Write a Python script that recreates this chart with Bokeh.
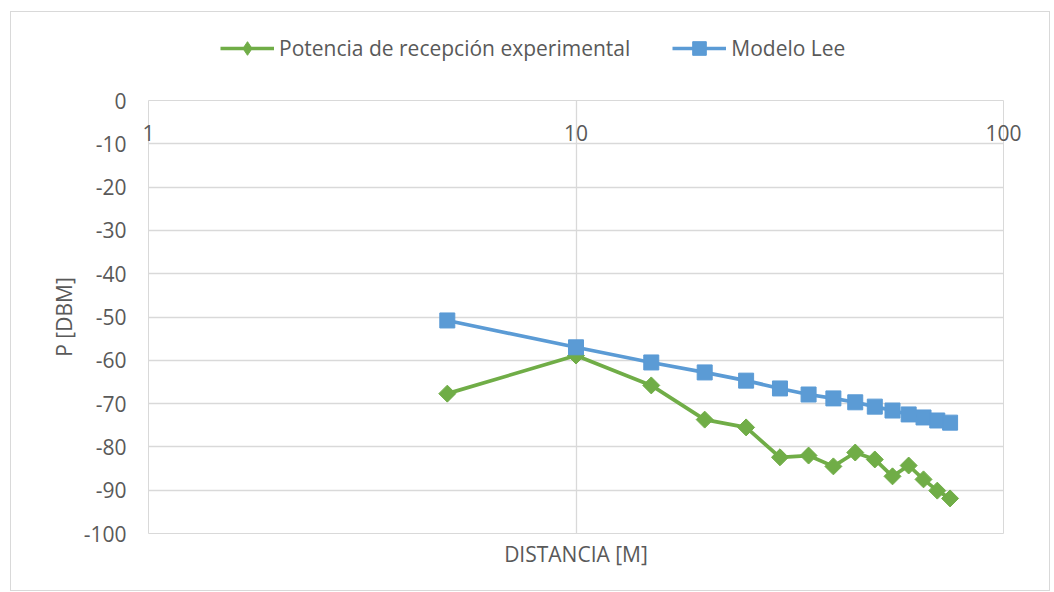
import numpy as np
from bokeh.plotting import figure
from bokeh.layouts import column
from bokeh.models import FixedTicker, Legend, LegendItem, LogAxis
from bokeh.embed import file_html
from bokeh.resources import INLINE

# ---- data ----
distancia = [5, 10, 15, 20, 25, 30, 35, 40, 45, 50, 55, 60, 65, 70, 75]
potencia_exp = [-67.7, -58.9, -65.8, -73.7, -75.5, -82.4, -82.0, -84.5, -81.3,
                -82.9, -86.8, -84.3, -87.5, -90.1, -91.9]
modelo_lee = [-50.8, -57.0, -60.5, -62.8, -64.7, -66.5, -67.9, -68.8, -69.7,
              -70.7, -71.6, -72.5, -73.2, -73.9, -74.4]
x_ticks = [1, 10, 100]
x_tick_labels = ["1", "10", "100"]
y_ticks = list(range(-100, 1, 10))
y_tick_labels = [str(v) for v in y_ticks]
series_names = ["Potencia de recepción experimental", "Modelo Lee"]

GREEN = "#70AD47"
BLUE = "#5B9BD5"
GRID = "#D9D9D9"
TXT = "#595959"
FONT = "Open Sans"
FS = "21px"

LEG_H = 72

p = figure(width=1038, height=578 - LEG_H, x_axis_type="log",
           x_range=(1, 100), y_range=(-100, 0),
           output_backend="svg", toolbar_location=None,
           min_border_left=137, min_border_right=46,
           min_border_top=16, min_border_bottom=57)

p.outline_line_color = GRID
p.outline_line_width = 1
p.background_fill_color = "white"
p.border_fill_color = "white"

p.xgrid.ticker = FixedTicker(ticks=x_ticks)
p.ygrid.ticker = FixedTicker(ticks=y_ticks)
p.xgrid.grid_line_color = GRID
p.ygrid.grid_line_color = GRID
p.xgrid.grid_line_width = 1.3
p.ygrid.grid_line_width = 1.3
p.xgrid.minor_grid_line_color = None

# y axis
p.yaxis.ticker = FixedTicker(ticks=y_ticks)
p.yaxis.major_label_overrides = dict(zip(y_ticks, y_tick_labels))
p.yaxis.axis_line_color = None
p.yaxis.major_tick_line_color = None
p.yaxis.minor_tick_line_color = None
p.yaxis.major_tick_out = 0
p.yaxis.major_label_text_font = FONT
p.yaxis.major_label_text_font_size = FS
p.yaxis.major_label_text_color = TXT
p.yaxis.major_label_standoff = 22
p.yaxis.axis_label = "P [DBM]"
p.yaxis.axis_label_text_font = FONT
p.yaxis.axis_label_text_font_size = FS
p.yaxis.axis_label_text_font_style = "normal"
p.yaxis.axis_label_text_color = TXT
p.yaxis.axis_label_standoff = 3

# x axis (bottom, title only)
p.xaxis.ticker = FixedTicker(ticks=x_ticks)
p.xaxis.axis_line_color = None
p.xaxis.major_tick_line_color = None
p.xaxis.minor_tick_line_color = None
p.xaxis.major_tick_out = 0
p.xaxis.major_label_text_font_size = "1px"
p.xaxis.major_label_text_color = None
p.xaxis.major_label_standoff = 0
p.xaxis.axis_label = "DISTANCIA [M]"
p.xaxis.axis_label_text_font = FONT
p.xaxis.axis_label_text_font_size = FS
p.xaxis.axis_label_text_font_style = "normal"
p.xaxis.axis_label_text_color = TXT
p.xaxis.axis_label_standoff = 6

# x tick labels: the axis crosses at y=0, labels sit just below that line
top_axis = LogAxis(ticker=FixedTicker(ticks=x_ticks),
                   major_label_overrides=dict(zip(x_ticks, x_tick_labels)))
top_axis.axis_line_color = None
top_axis.major_tick_line_color = None
top_axis.minor_tick_line_color = None
top_axis.major_tick_out = 0
top_axis.major_tick_in = 0
top_axis.major_label_text_font = FONT
top_axis.major_label_text_font_size = FS
top_axis.major_label_text_color = TXT
top_axis.major_label_standoff = -40
top_axis.axis_label = " "
top_axis.axis_label_text_font_size = FS
top_axis.axis_label_standoff = -2
p.add_layout(top_axis, "above")

# series
l1 = p.line(distancia, potencia_exp, line_color=GREEN, line_width=3.7)
s1 = p.scatter(distancia, potencia_exp, marker="square", angle=np.pi / 4,
               size=12, fill_color=GREEN, line_color=GREEN)
l2 = p.line(distancia, modelo_lee, line_color=BLUE, line_width=3.7)
s2 = p.scatter(distancia, modelo_lee, marker="square", size=15,
               fill_color=BLUE, line_color=BLUE)

# legend strip above the chart (same series styles)
leg = figure(width=1038, height=LEG_H, x_range=(0, 1), y_range=(0, 1),
             output_backend="svg", toolbar_location=None, min_border=0)
leg.axis.visible = False
leg.grid.visible = False
leg.outline_line_color = None
lg1 = leg.line(distancia, potencia_exp, line_color=GREEN, line_width=3.7)
lgs1 = leg.scatter(distancia, potencia_exp, marker="diamond",
                   size=12, fill_color=GREEN, line_color=GREEN)
lg2 = leg.line(distancia, modelo_lee, line_color=BLUE, line_width=3.7)
lgs2 = leg.scatter(distancia, modelo_lee, marker="square", size=15,
                   fill_color=BLUE, line_color=BLUE)

legend = Legend(items=[LegendItem(label=series_names[0], renderers=[lg1, lgs1]),
                       LegendItem(label=series_names[1], renderers=[lg2, lgs2])],
                orientation="horizontal", location="left")
legend.label_text_font = FONT
legend.label_text_font_size = FS
legend.label_text_color = TXT
legend.glyph_width = 54
legend.glyph_height = 34
legend.label_standoff = 5
legend.spacing = 42
legend.padding = 0
legend.margin = 72
legend.border_line_color = None
legend.background_fill_alpha = 0
leg.add_layout(legend, "center")

layout = column(leg, p, spacing=0,
                styles={"border": "1px solid #D9D9D9", "margin-left": "10px",
                        "margin-top": "11px"})

open("out.html", "w").write(file_html(layout, INLINE))
